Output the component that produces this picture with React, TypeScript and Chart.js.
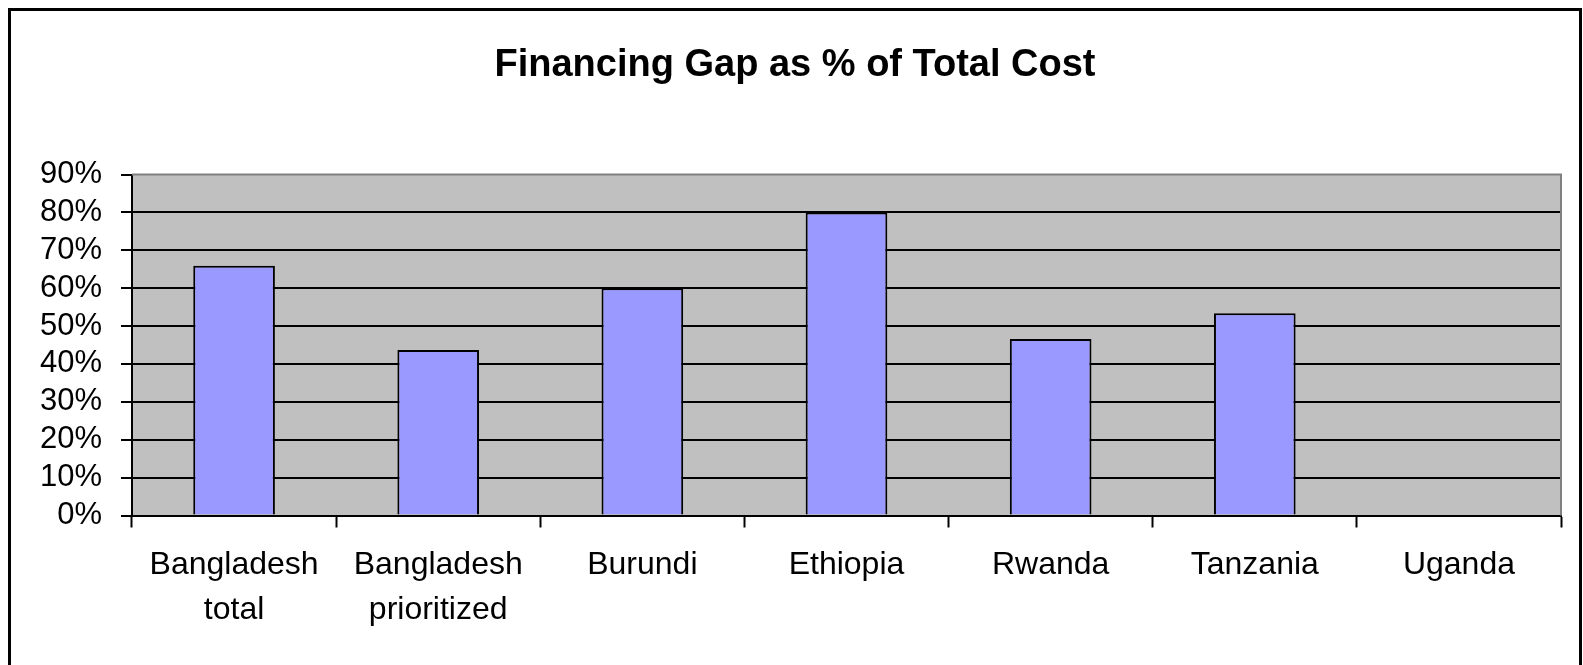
import React, { useEffect, useRef } from "react";
import { Chart, registerables } from "chart.js";

Chart.register(...registerables);

const categories: (string | string[])[] = [
  ["Bangladesh", "total"],
  ["Bangladesh", "prioritized"],
  "Burundi",
  "Ethiopia",
  "Rwanda",
  "Tanzania",
  "Uganda",
];
const gapPercent: (number | null)[] = [65.9, 43.7, 60, 80, 46.6, 53.4, null];
const yTicks: number[] = [0, 10, 20, 30, 40, 50, 60, 70, 80, 90];
const titleText = "Financing Gap as % of Total Cost";

const W = 1583;
const H = 665;

const framePlugin = {
  id: "framePlugin",
  beforeDraw(chart: any) {
    const { ctx, chartArea } = chart;
    ctx.save();
    ctx.fillStyle = "#ffffff";
    ctx.fillRect(0, 0, W, H);
    ctx.fillStyle = "#C0C0C0";
    ctx.fillRect(chartArea.left, chartArea.top, chartArea.right - chartArea.left, chartArea.bottom - chartArea.top);
    ctx.restore();
  },
  beforeDatasetsDraw(chart: any) {
    const { ctx, chartArea } = chart;
    ctx.save();
    ctx.strokeStyle = "#808080";
    ctx.lineWidth = 2;
    ctx.beginPath();
    ctx.moveTo(chartArea.left, chartArea.top);
    ctx.lineTo(chartArea.right, chartArea.top);
    ctx.lineTo(chartArea.right, chartArea.bottom);
    ctx.stroke();
    ctx.restore();
  },
  afterDraw(chart: any) {
    const { ctx } = chart;
    ctx.save();
    ctx.fillStyle = "#000000";
    ctx.fillRect(8, 8, 3, H);
    ctx.fillRect(8, 8, 1574, 3);
    ctx.fillRect(1579, 8, 3, H);
    ctx.font = "bold 38px 'Liberation Sans', Arial, sans-serif";
    ctx.textAlign = "center";
    ctx.textBaseline = "middle";
    ctx.fillText(titleText, 795, 66);
    ctx.restore();
  },
};

export default function App() {
  const ref = useRef<HTMLCanvasElement | null>(null);

  useEffect(() => {
    if (!ref.current) return;
    const chart = new Chart(ref.current, {
      type: "bar",
      data: {
        labels: categories,
        datasets: [
          {
            data: gapPercent,
            backgroundColor: "#9999FF",
            borderColor: "#000000",
            borderWidth: 2,
            categoryPercentage: 0.8,
            barPercentage: 0.5,
          },
        ],
      },
      options: {
        responsive: false,
        animation: false,
        events: [],
        layout: { padding: { left: 0, right: 22, top: 174.5, bottom: 0 } },
        plugins: {
          legend: { display: false },
          tooltip: { enabled: false },
          title: { display: false },
        },
        scales: {
          x: {
            grid: {
              display: true,
              drawOnChartArea: false,
              drawTicks: true,
              tickLength: 12,
              tickColor: "#000000",
              tickWidth: 2,
              offset: true,
            },
            border: { display: true, color: "#000000", width: 2 },
            ticks: {
              color: "#000000",
              padding: 15,
              maxRotation: 0,
              autoSkip: false,
              font: { family: "'Liberation Sans', Arial, sans-serif", size: 32, lineHeight: 1.42 },
            },
            afterFit: (axis: any) => {
              axis.height = 149.5;
            },
          },
          y: {
            min: 0,
            max: 90,
            afterBuildTicks: (axis: any) => {
              axis.ticks = yTicks.map((v) => ({ value: v }));
            },
            grid: {
              color: (c: any) => (c.tick && (c.tick.value === 90 || c.tick.value === 0) ? "rgba(0,0,0,0)" : "#000000"),
              lineWidth: 2,
              tickLength: 11,
              tickColor: "#000000",
              tickWidth: 2,
            },
            border: { display: true, color: "#000000", width: 2 },
            ticks: {
              color: "#000000",
              padding: 19,
              autoSkip: false,
              font: { family: "'Liberation Sans', Arial, sans-serif", size: 31 },
              callback: (v: any) => `${v}%`,
            },
            afterFit: (axis: any) => {
              axis.width = 132;
            },
          },
        },
      },
      plugins: [framePlugin],
    });
    return () => chart.destroy();
  }, []);

  return (
    <div style={{ position: "fixed", left: 0, top: 0, width: W, height: H, overflow: "hidden", background: "#fff" }}>
      <canvas ref={ref} width={W} height={H} style={{ display: "block", width: W, height: H }} />
    </div>
  );
}
